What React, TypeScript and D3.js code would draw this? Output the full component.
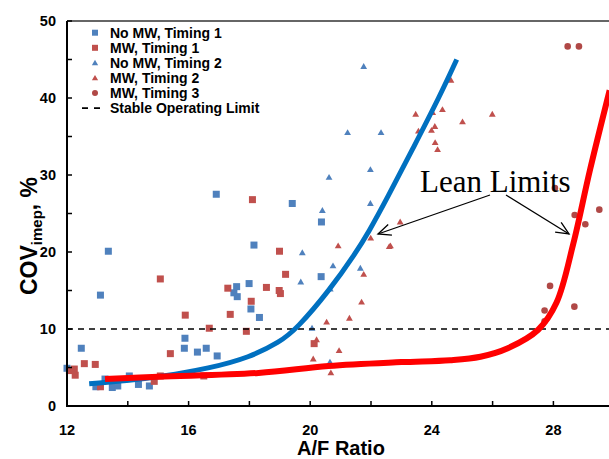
import React from "react";
import * as d3 from "d3";

// ---- data (A/F ratio, COV_imep %) ----
const noMwT1: [number, number][] = [
  [12.0, 4.9], [12.47, 7.5], [12.95, 2.5], [13.1, 14.4], [13.25, 3.5], [13.36, 20.1],
  [13.49, 2.4], [13.67, 2.6], [14.05, 3.9], [14.35, 2.8], [14.71, 2.6], [15.86, 7.5],
  [15.88, 8.8], [16.29, 7.0], [16.58, 7.5], [16.91, 27.5], [16.94, 6.5], [17.49, 14.7],
  [17.58, 15.5], [17.6, 14.2], [17.99, 15.9], [18.05, 12.6], [18.15, 20.9], [18.33, 11.5],
  [19.41, 26.3], [20.36, 16.8], [20.37, 23.9],
];
const mwT1: [number, number][] = [
  [12.08, 4.6], [12.24, 4.8], [12.27, 4.0], [12.57, 5.5], [12.93, 5.4], [13.1, 2.5],
  [14.87, 3.2], [15.07, 3.9], [15.07, 16.5], [15.4, 6.8], [15.89, 11.8], [16.5, 3.9],
  [16.68, 10.1], [17.29, 15.3], [17.37, 11.9], [17.9, 9.7], [18.06, 13.6], [18.1, 26.8],
  [18.56, 15.4], [18.98, 15.0], [18.99, 20.1], [19.02, 14.6], [19.19, 17.1], [20.13, 8.1],
];
const noMwT2: [number, number][] = [
  [19.69, 16.1], [19.74, 19.9], [20.06, 10.1], [20.4, 25.4], [20.62, 29.7], [20.65, 5.7],
  [20.66, 15.2], [20.75, 18.2], [21.23, 35.5], [21.65, 17.9], [21.76, 44.1], [21.98, 30.7],
  [21.98, 26.3], [22.33, 35.5],
];
const mwT2: [number, number][] = [
  [20.1, 6.1], [20.21, 8.6], [20.54, 10.9], [20.68, 4.3], [20.92, 20.8], [20.95, 7.2],
  [21.29, 11.4], [21.69, 13.5], [21.76, 17.1], [21.99, 21.8], [22.6, 20.7], [22.64, 20.8],
  [22.96, 23.9], [23.47, 37.9], [23.56, 35.7], [23.99, 35.8], [24.03, 38.1], [24.1, 36.3],
  [24.11, 34.2], [24.19, 33.3], [24.35, 38.5], [24.63, 42.3], [25.01, 36.9], [25.99, 37.9],
];
const mwT3: [number, number][] = [
  [28.47, 46.7], [28.84, 46.7], [28.05, 28.3], [28.7, 24.8], [29.51, 25.5], [29.05, 23.6],
  [27.89, 15.6], [27.71, 12.4], [27.71, 11.0], [28.69, 12.9],
];
// trend curves
const blueFit: [number, number][] = [
  [12.73, 2.9], [14.0, 3.3], [15.06, 3.8], [16.7, 4.9], [18.0, 6.3], [19.0, 8.3],
  [19.55, 10.0], [20.65, 15.1], [21.5, 19.9], [21.91, 22.5], [22.52, 26.9], [23.4, 33.6],
  [24.27, 40.3], [24.82, 45.0],
];
const redFit: [number, number][] = [
  [13.25, 3.5], [15.0, 3.8], [18.3, 4.3], [20.6, 5.2], [23.0, 5.7], [24.6, 5.95],
  [25.6, 6.4], [26.5, 7.5], [27.5, 9.9], [28.1, 13.4], [28.65, 21.0], [29.2, 30.6],
  [29.85, 41.0],
];
const stableLimit = 10;
const xTicks = [12, 14, 16, 18, 20, 22, 24, 26, 28, 30];
const xLabels = [12, 16, 20, 24, 28];
const yTicks = [0, 5, 10, 15, 20, 25, 30, 35, 40, 45, 50];
const yLabels = [0, 10, 20, 30, 40, 50];
const legendNames = [
  "No MW, Timing 1",
  "MW, Timing 1",
  "No MW, Timing 2",
  "MW, Timing 2",
  "MW, Timing 3",
  "Stable Operating Limit",
];

const BLUE = "#4F81BD";
const RED = "#C0504D";
const DARKRED = "#B04846";
const SANS = "'Liberation Sans', Arial, sans-serif";

export default function App() {
  const W = 609, H = 459;
  const x = d3.scaleLinear().domain([12, 30]).range([67, 614.2]);
  const y = d3.scaleLinear().domain([0, 50]).range([406, 21]);
  const blueLine = d3
    .line<[number, number]>()
    .x((d) => x(d[0]))
    .y((d) => y(d[1]))
    .curve(d3.curveBasis);
  const redLine = d3
    .line<[number, number]>()
    .x((d) => x(d[0]))
    .y((d) => y(d[1]))
    .curve(d3.curveCatmullRom.alpha(0.5));
  const tri = d3.symbol().type(d3.symbolTriangle).size(20)()!;
  const triLeg = d3.symbol().type(d3.symbolTriangle).size(17)()!;

  const squares = (data: [number, number][], color: string, key: string) =>
    data.map((d, i) => (
      <rect key={key + i} x={x(d[0]) - 3.5} y={y(d[1]) - 3.5} width={7} height={7} fill={color} />
    ));
  const triangles = (data: [number, number][], color: string, key: string) =>
    data.map((d, i) => (
      <path key={key + i} d={tri} transform={`translate(${x(d[0])},${y(d[1]) + 0.5})`} fill={color} />
    ));

  // arrows
  const arrow = (x1: number, y1: number, x2: number, y2: number, key: string) => {
    const ang = Math.atan2(y2 - y1, x2 - x1);
    const len = 14, spread = 0.42;
    const a1 = [x2 - len * Math.cos(ang - spread), y2 - len * Math.sin(ang - spread)];
    const a2 = [x2 - len * Math.cos(ang + spread), y2 - len * Math.sin(ang + spread)];
    return (
      <g key={key} stroke="#000" strokeWidth={1.3} fill="none">
        <line x1={x1} y1={y1} x2={x2} y2={y2} />
        <polyline points={`${a1[0]},${a1[1]} ${x2},${y2} ${a2[0]},${a2[1]}`} />
      </g>
    );
  };

  const legRowY = (i: number) => 32.7 + i * 15.1;

  return (
    <svg width={W} height={H} style={{ position: "absolute", left: 0, top: 0, background: "#fff" }}>
      <rect width={W} height={H} fill="#fff" />
      {/* frame */}
      <line x1={x(12)} y1={y(50)} x2={W} y2={y(50)} stroke="#333" strokeWidth={1.5} />
      {/* markers */}
      <g>
        {squares(noMwT1, BLUE, "a")}
        {squares(mwT1, RED, "b")}
        {triangles(noMwT2, BLUE, "c")}
        {triangles(mwT2, RED, "d")}
        {mwT3.map((d, i) => (
          <circle key={"e" + i} cx={x(d[0])} cy={y(d[1])} r={3.3} fill={DARKRED} />
        ))}
      </g>
      {/* stable operating limit */}
      <line x1={x(12)} y1={y(stableLimit)} x2={W} y2={y(stableLimit)} stroke="#000" strokeWidth={1.6} strokeDasharray="6,5" />
      {/* fits */}
      <path d={blueLine(blueFit)!} fill="none" stroke="#0070C0" strokeWidth={5} />
      <path d={redLine(redFit)!} fill="none" stroke="#FF0000" strokeWidth={6} />
      {/* axes */}
      <line x1={x(12)} y1={y(0)} x2={W} y2={y(0)} stroke="#000" strokeWidth={2} />
      <line x1={x(12)} y1={y(0) + 1} x2={x(12)} y2={y(50)} stroke="#000" strokeWidth={2} />
      {xTicks.map((t) => (
        <line key={"xt" + t} x1={x(t)} x2={x(t)} y1={y(0)} y2={y(0) - 5} stroke="#000" strokeWidth={1.5} />
      ))}
      {yTicks.map((t) => (
        <line key={"yt" + t} x1={x(12)} x2={x(12) + 5} y1={y(t)} y2={y(t)} stroke="#000" strokeWidth={1.5} />
      ))}
      {xLabels.map((t) => (
        <text key={"xl" + t} x={x(t)} y={435} textAnchor="middle" fontFamily={SANS} fontWeight="bold" fontSize={14.5} fill="#000">
          {t}
        </text>
      ))}
      {yLabels.map((t) => (
        <text key={"yl" + t} x={56} y={y(t) + 5} textAnchor="end" fontFamily={SANS} fontWeight="bold" fontSize={14.5} fill="#000">
          {t}
        </text>
      ))}
      {/* axis titles */}
      <text x={341} y={455} textAnchor="middle" fontFamily={SANS} fontWeight="bold" fontSize={20} fill="#000">
        A/F Ratio
      </text>
      <text transform={`translate(37,236) rotate(-90)`} textAnchor="middle" fontFamily={SANS} fontWeight="bold" fontSize={23} fill="#000">
        <tspan>COV</tspan>
        <tspan fontSize={15} dy={5}>imep</tspan>
        <tspan dy={-5}>, %</tspan>
      </text>
      {/* legend */}
      <g fontFamily={SANS} fontWeight="bold" fontSize={14} fill="#000">
        <rect x={92} y={legRowY(0) - 3} width={6} height={6} fill={BLUE} />
        <rect x={92} y={legRowY(1) - 3} width={6} height={6} fill={RED} />
        <path d={triLeg} transform={`translate(95,${legRowY(2) + 0.5})`} fill={BLUE} />
        <path d={triLeg} transform={`translate(95,${legRowY(3) + 0.5})`} fill={RED} />
        <circle cx={95} cy={legRowY(4)} r={3} fill={DARKRED} />
        <line x1={82} x2={106} y1={legRowY(5)} y2={legRowY(5)} stroke="#000" strokeWidth={1.8} strokeDasharray="6,6" />
        {legendNames.map((n, i) => (
          <text key={n} x={110} y={legRowY(i) + 5}>
            {n}
          </text>
        ))}
      </g>
      {/* annotation */}
      <text x={420} y={192} fontFamily="'Liberation Serif', 'Times New Roman', serif" fontSize={31} fill="#000">
        Lean Limits
      </text>
      {arrow(490, 195, 378, 234, "a1")}
      {arrow(506, 195, 569, 234, "a2")}
    </svg>
  );
}
